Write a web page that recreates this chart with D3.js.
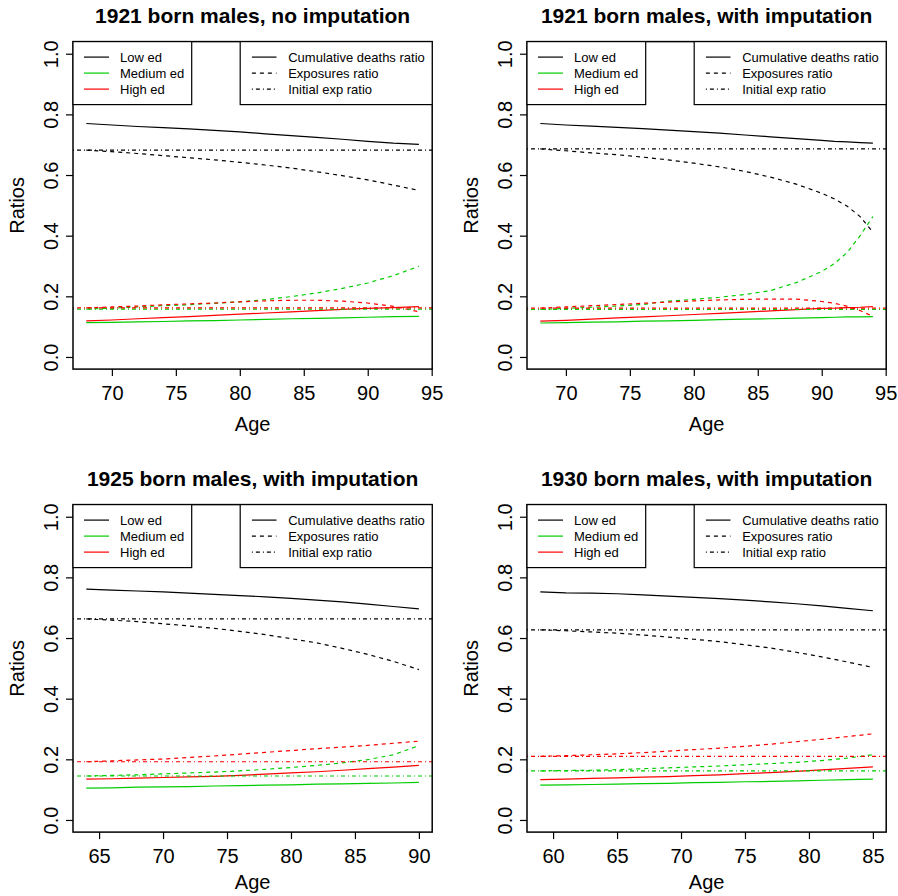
<!DOCTYPE html>
<html>
<head>
<meta charset="utf-8">
<script src="https://cdn.jsdelivr.net/npm/d3@7"></script>
<style>
  body { margin: 0; background: #fff; }
  svg { display: block; }
  text { font-family: "Liberation Sans", Arial, Helvetica, sans-serif; fill: #000; }
  .title { font-weight: bold; font-size: 21px; }
  .axis text { font-size: 20px; }
  .axislab { font-size: 20px; }
  .legend text { font-size: 13px; }
</style>
</head>
<body>
<div id="chart"></div>
<script>
// ---- data ----
const groups = ["Low ed", "Medium ed", "High ed"];
const measures = ["Cumulative deaths ratio", "Exposures ratio", "Initial exp ratio"];
const yTicks = [0, 0.2, 0.4, 0.6, 0.8, 1.0];

// 1921 born males, no imputation
const ages1921a = [68, 70, 72, 74, 76, 78, 80, 82, 84, 86, 88, 90, 92, 94];
const cum1921a = [
  [.770, .765, .760, .756, .752, .747, .742, .736, .730, .724, .718, .711, .705, .701],
  [.113, .114, .116, .117, .119, .120, .122, .124, .126, .127, .129, .131, .133, .134],
  [.119, .122, .126, .130, .133, .137, .141, .145, .149, .153, .157, .160, .163, .166]
];
const exp1921a = [
  [.682, .677, .671, .664, .657, .650, .642, .633, .623, .611, .598, .584, .567, .549],
  [.158, .161, .165, .169, .172, .177, .182, .189, .199, .211, .226, .244, .268, .299],
  [.162, .165, .168, .172, .175, .178, .182, .185, .187, .187, .184, .178, .167, .149]
];
const init1921a = [.682, .158, .162];

// 1921 born males, with imputation
const ages1921b = [68, 70, 72, 74, 76, 78, 80, 82, 84, 86, 88, 90, 91, 92, 93, 94];
const cum1921b = [
  [.770, .765, .761, .757, .753, .748, .743, .738, .732, .726, .720, .714, .711, .709, .707, .705],
  [.112, .113, .115, .116, .118, .119, .121, .123, .125, .126, .128, .130, .131, .132, .132, .133],
  [.118, .121, .125, .129, .132, .136, .140, .144, .148, .152, .156, .160, .161, .163, .164, .166]
];
const exp1921b = [
  [.686, .680, .673, .667, .659, .650, .639, .627, .612, .593, .570, .540, .521, .497, .463, .412],
  [.157, .160, .164, .168, .173, .184, .190, .197, .206, .219, .245, .282, .308, .345, .400, .463],
  [.161, .165, .169, .173, .177, .181, .185, .188, .190, .191, .191, .183, .177, .167, .153, .134]
];
const init1921b = [.686, .157, .161];

// 1925 born males, with imputation
const ages1925 = [64, 66, 68, 70, 72, 74, 76, 78, 80, 82, 84, 86, 88, 90];
const cum1925 = [
  [.761, .758, .755, .752, .748, .744, .740, .736, .731, .725, .719, .712, .704, .696],
  [.105, .106, .108, .109, .110, .112, .113, .115, .116, .118, .119, .121, .122, .124],
  [.135, .136, .138, .140, .142, .144, .147, .151, .155, .159, .164, .169, .174, .180]
];
const exp1925 = [
  [.663, .659, .654, .647, .640, .632, .622, .611, .598, .584, .566, .546, .523, .496],
  [.145, .147, .149, .152, .155, .158, .162, .167, .173, .180, .188, .199, .215, .245],
  [.192, .195, .198, .201, .206, .211, .217, .223, .229, .235, .240, .246, .253, .260]
];
const init1925 = [.663, .145, .192];

// 1930 born males, with imputation
const ages1930 = [59, 61, 63, 65, 67, 69, 71, 73, 75, 77, 79, 81, 83, 85];
const cum1930 = [
  [.752, .749, .748, .746, .742, .738, .734, .730, .725, .719, .713, .706, .698, .690],
  [.115, .116, .117, .118, .120, .121, .123, .124, .126, .127, .129, .131, .133, .135],
  [.133, .135, .137, .139, .141, .143, .146, .149, .153, .156, .160, .165, .170, .175]
];
const exp1930 = [
  [.627, .624, .620, .616, .610, .603, .596, .588, .578, .567, .553, .538, .521, .503],
  [.162, .163, .164, .166, .169, .172, .175, .178, .182, .186, .190, .196, .204, .215],
  [.210, .212, .215, .218, .222, .227, .232, .237, .243, .250, .258, .266, .275, .284]
];
const init1930 = [.627, .162, .210];

const panelTitles = [
  "1921 born males, no imputation",
  "1921 born males, with imputation",
  "1925 born males, with imputation",
  "1930 born males, with imputation"
];
const xTicks = [
  [70, 75, 80, 85, 90, 95],
  [70, 75, 80, 85, 90, 95],
  [65, 70, 75, 80, 85, 90],
  [60, 65, 70, 75, 80, 85]
];

// ---- layout ----
const width = 898, height = 896;
const colors = ["#000000", "#00CD00", "#FF0000"];
const dashes = [null, "4,4", "1,3,4,3"];

const layout = [
  { left: 73, right: 432.2, top: 41.6, bottom: 369.1, ageGap: 62 },
  { left: 527, right: 886.2, top: 41.6, bottom: 369.1, ageGap: 62 },
  { left: 73, right: 432.2, top: 504.6, bottom: 832.1, ageGap: 56.7 },
  { left: 527, right: 886.2, top: 504.6, bottom: 832.1, ageGap: 56.7 }
];

const panels = [
  { ages: ages1921a, cum: cum1921a, exp: exp1921a, init: init1921a },
  { ages: ages1921b, cum: cum1921b, exp: exp1921b, init: init1921b },
  { ages: ages1925, cum: cum1925, exp: exp1925, init: init1925 },
  { ages: ages1930, cum: cum1930, exp: exp1930, init: init1930 }
];

const svg = d3.select("#chart").append("svg")
  .attr("width", width)
  .attr("height", height);

panels.forEach((p, i) => {
  let box = layout[i];
  let g = svg.append("g");

  // R style axis range: data range padded by 4%
  let xmin = d3.min(p.ages), xmax = d3.max(p.ages);
  let xpad = (xmax - xmin) * 0.04;
  let x = d3.scaleLinear().domain([xmin - xpad, xmax + xpad]).range([box.left, box.right]);
  let y = d3.scaleLinear().domain([-0.04, 1.04]).range([box.bottom, box.top]);

  let clipId = "clip" + i;
  g.append("clipPath").attr("id", clipId)
    .append("rect")
    .attr("x", box.left).attr("y", box.top)
    .attr("width", box.right - box.left).attr("height", box.bottom - box.top);

  let plot = g.append("g").attr("clip-path", "url(#" + clipId + ")");

  let line = d3.line()
    .x((d, j) => x(p.ages[j]))
    .y(d => y(d));

  // series: each education group, cumulative (solid), exposures (dashed), initial (dot-dash)
  groups.forEach((grp, k) => {
    plot.append("path")
      .attr("d", line(p.cum[k]))
      .attr("fill", "none")
      .attr("stroke", colors[k])
      .attr("stroke-width", 1.2);
    plot.append("path")
      .attr("d", line(p.exp[k]))
      .attr("fill", "none")
      .attr("stroke", colors[k])
      .attr("stroke-width", 1.2)
      .attr("stroke-dasharray", dashes[1]);
  });
  groups.forEach((grp, k) => {
    plot.append("line")
      .attr("x1", box.left).attr("x2", box.right)
      .attr("y1", y(p.init[k])).attr("y2", y(p.init[k]))
      .attr("stroke", colors[k])
      .attr("stroke-width", 1.2)
      .attr("stroke-dasharray", dashes[2]);
  });

  // axes
  let xAxis = g.append("g").attr("class", "axis")
    .attr("transform", "translate(0," + box.bottom + ")")
    .call(d3.axisBottom(x).tickValues(xTicks[i]).tickSize(7).tickFormat(d3.format("d")));
  xAxis.select(".domain").remove();
  xAxis.selectAll("line").attr("stroke", "#000").attr("stroke-width", 1.2);
  xAxis.selectAll("text").attr("y", 31).attr("dy", 0).attr("fill", "#000");

  let yAxis = g.append("g").attr("class", "axis")
    .attr("transform", "translate(" + box.left + ",0)")
    .call(d3.axisLeft(y).tickValues(yTicks).tickSize(7).tickFormat(d3.format(".1f")));
  yAxis.select(".domain").remove();
  yAxis.selectAll("line").attr("stroke", "#000").attr("stroke-width", 1.2);
  yAxis.selectAll("text")
    .attr("x", 0).attr("y", 0).attr("dy", 0)
    .attr("text-anchor", "middle")
    .attr("fill", "#000")
    .attr("transform", "translate(-14.7,0) rotate(-90)");

  // frame
  g.append("rect")
    .attr("x", box.left).attr("y", box.top)
    .attr("width", box.right - box.left).attr("height", box.bottom - box.top)
    .attr("fill", "none").attr("stroke", "#000").attr("stroke-width", 1.5);

  // titles
  let cx = (box.left + box.right) / 2;
  g.append("text").attr("class", "title")
    .attr("x", cx).attr("y", box.top - 18.5)
    .attr("text-anchor", "middle")
    .text(panelTitles[i]);
  g.append("text").attr("class", "axislab")
    .attr("x", cx).attr("y", box.bottom + box.ageGap)
    .attr("text-anchor", "middle")
    .text("Age");
  g.append("text").attr("class", "axislab")
    .attr("text-anchor", "middle")
    .attr("transform", "translate(" + (box.left - 49) + "," + ((box.top + box.bottom) / 2) + ") rotate(-90)")
    .text("Ratios");

  // legends
  let rowY = [15.5, 31.5, 47.5];
  let leg1 = g.append("g").attr("class", "legend")
    .attr("transform", "translate(" + box.left + "," + box.top + ")");
  leg1.append("rect")
    .attr("x", 0).attr("y", 0).attr("width", 118.7).attr("height", 63)
    .attr("fill", "#fff").attr("stroke", "#000").attr("stroke-width", 1.2);
  groups.forEach((grp, k) => {
    leg1.append("line")
      .attr("x1", 11).attr("x2", 36).attr("y1", rowY[k]).attr("y2", rowY[k])
      .attr("stroke", colors[k]).attr("stroke-width", 1.2);
    leg1.append("text")
      .attr("x", 47).attr("y", rowY[k]).attr("dy", "0.35em")
      .text(grp);
  });

  let leg2 = g.append("g").attr("class", "legend")
    .attr("transform", "translate(" + (box.right - 192) + "," + box.top + ")");
  leg2.append("rect")
    .attr("x", 0).attr("y", 0).attr("width", 192).attr("height", 63)
    .attr("fill", "#fff").attr("stroke", "#000").attr("stroke-width", 1.2);
  measures.forEach((m, k) => {
    leg2.append("line")
      .attr("x1", 11.7).attr("x2", 36.3).attr("y1", rowY[k]).attr("y2", rowY[k])
      .attr("stroke", "#000").attr("stroke-width", 1.2)
      .attr("stroke-dasharray", dashes[k]);
    leg2.append("text")
      .attr("x", 48).attr("y", rowY[k]).attr("dy", "0.35em")
      .text(m);
  });
});
</script>
</body>
</html>
